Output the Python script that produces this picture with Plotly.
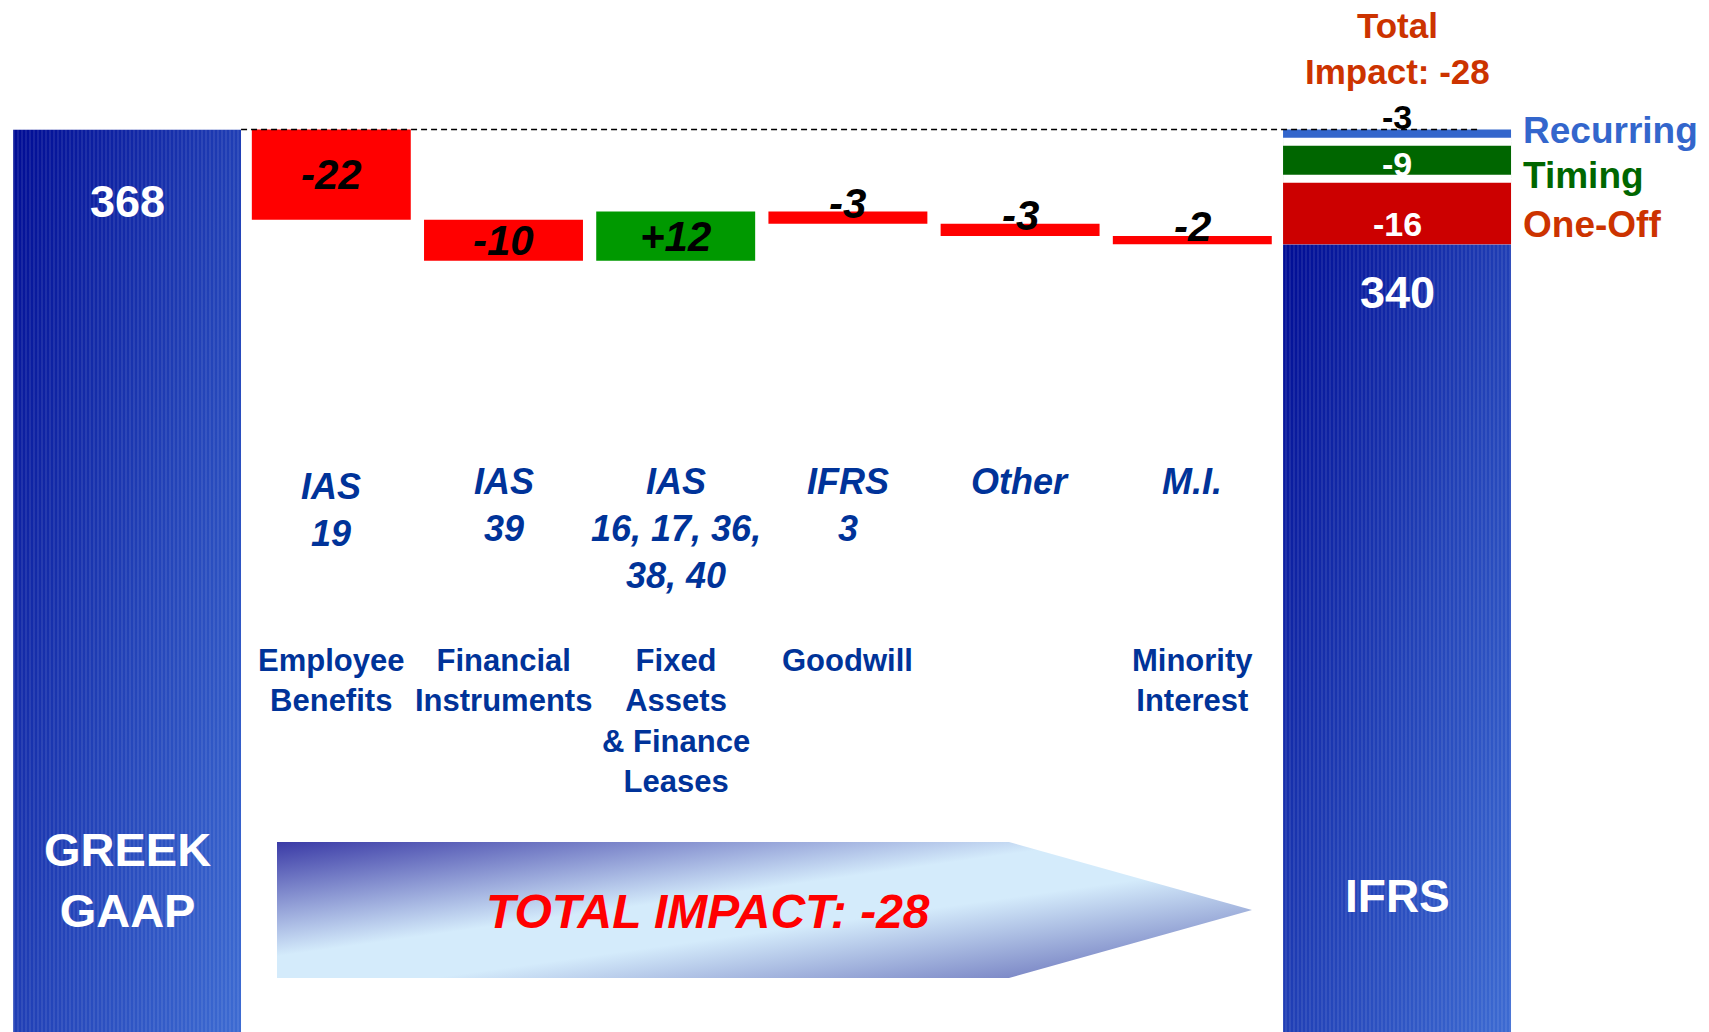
import base64
import numpy as np
import plotly.graph_objects as go

# Equity bridge: Greek GAAP -> IFRS
start_label = "GREEK GAAP"
end_label = "IFRS"
start_value = 368
steps = ["IAS 19", "IAS 39", "IAS 16-40", "IFRS 3", "Other", "M.I."]
step_values = [-22, -10, 12, -3, -3, -2]
step_codes = ["IAS<br>19", "IAS<br>39", "IAS<br>16, 17, 36,<br>38, 40", "IFRS<br>3", "Other", "M.I."]
step_names = ["Employee<br>Benefits", "Financial<br>Instruments", "Fixed<br>Assets<br>& Finance<br>Leases",
              "Goodwill", "", "Minority<br>Interest"]

# split of the total impact, stacked up from the IFRS figure
split_names = ["One-Off", "Timing", "Recurring"]
split_values = [-16, -9, -3]

total_impact = sum(step_values)
end_value = start_value + total_impact

after = start_value + np.cumsum(step_values)
before = np.concatenate([[start_value], after[:-1]])
step_base = np.minimum(before, after)
step_height = np.abs(step_values)

split_top = end_value - np.cumsum(split_values)
split_base = split_top - np.abs(split_values)

cats = [start_label] + steps + [end_label]
n = len(cats)

# geometry / styles (page body adds an 8px margin, so the figure is 8px smaller)
W, H = 1701, 1024
Y_MIN, Y_MAX = 147.88, 397.63
X_MIN, X_MAX = -0.8775, 9.0006
big_width = 1.324
big_offset = [-0.848, -0.473]
small_width = 0.923
FONT = "Liberation Sans, Arial, sans-serif"
NAVY = "#003399"
split_colors = ["#CC0000", "#006600", "#3366CC"]
split_text_colors = ["#CC3300", "#006600", "#3366CC"]
split_value_colors = ["white", "white", "black"]
split_value_shift = [-13, -4, 19]
split_name_shift = [-13, -15, 5]
code_shift = [-5, 0, 0, 0, 0, 0]


def px(x):
    return (x - 8) / W


def py(y):
    return 1 - (y - 8) / H


def svg_uri(svg):
    return "data:image/svg+xml;base64," + base64.b64encode(svg.encode()).decode()


bar_svg = svg_uri(
    "<svg xmlns='http://www.w3.org/2000/svg' width='100' height='100' viewBox='0 0 100 100' "
    "preserveAspectRatio='none'><defs><linearGradient id='g' x1='0' y1='0' x2='1' y2='1'>"
    "<stop offset='0' stop-color='#000C94'/><stop offset='0.55' stop-color='#2343B8'/>"
    "<stop offset='1' stop-color='#3D6BD2'/></linearGradient></defs>"
    "<rect width='100' height='100' fill='url(#g)'/></svg>")

arrow_svg = svg_uri(
    "<svg xmlns='http://www.w3.org/2000/svg' width='975' height='136' viewBox='0 0 975 136' "
    "preserveAspectRatio='none'><defs><linearGradient id='a' x1='0' y1='0' x2='1' y2='1'>"
    "<stop offset='0' stop-color='#3A3AA6'/><stop offset='0.42' stop-color='#D4EBFB'/>"
    "<stop offset='0.58' stop-color='#D4EBFB'/><stop offset='1' stop-color='#5A62B2'/>"
    "</linearGradient></defs><polygon points='0,0 732,0 975,68 732,136 0,136' fill='url(#a)'/></svg>")

fig = go.Figure()

# opening and closing totals
fig.add_trace(go.Bar(
    x=[start_label, end_label], y=[start_value, end_value], base=[0, 0],
    width=[big_width, big_width], offset=big_offset,
    marker=dict(color="rgba(0,0,0,0)", line_width=0,
                pattern=dict(shape="|", size=4, solidity=0.2, fgcolor="white",
                             fgopacity=0.2, fillmode="overlay")),
    hoverinfo="skip"))

# adjustments
fig.add_trace(go.Bar(
    x=steps, y=step_height, base=step_base, width=small_width,
    marker=dict(color=["#009900" if v > 0 else "#FF0000" for v in step_values], line_width=0),
    hoverinfo="skip"))

# split of total impact
for name, b, h, c in zip(split_names, split_base, np.abs(split_values), split_colors):
    fig.add_trace(go.Bar(
        x=[end_label], y=[h], base=[b], width=[big_width], offset=[big_offset[1]],
        marker=dict(color=c, line_width=0), hoverinfo="skip"))

images = []
for idx, off in zip([0, n - 1], big_offset):
    top = start_value if idx == 0 else end_value
    images.append(dict(source=bar_svg, xref="x", yref="y", x=idx + off, y=top,
                       sizex=big_width, sizey=top - Y_MIN, xanchor="left", yanchor="top",
                       sizing="stretch", layer="below"))
images.append(dict(source=arrow_svg, xref="paper", yref="paper", x=px(277), y=py(842),
                   sizex=975 / W, sizey=136 / H, xanchor="left", yanchor="top",
                   sizing="stretch", layer="below"))

ann = []
left_c = big_offset[0] + big_width / 2
right_c = n - 1 + big_offset[1] + big_width / 2
white_b = dict(family=FONT, size=45, color="white", weight="bold")

ann.append(dict(x=left_c, y=start_value, yshift=-72, text=str(start_value), font=white_b))
ann.append(dict(x=right_c, y=end_value, yshift=-48, text=str(end_value), font=white_b))
ann.append(dict(x=left_c, y=py(879.5), yref="paper", text="GREEK<br>GAAP", font=dict(white_b, size=47)))
ann.append(dict(x=right_c, y=py(896), yref="paper", text=end_label, font=dict(white_b, size=46)))

for i, (v, b, h) in enumerate(zip(step_values, step_base, step_height), start=1):
    ann.append(dict(x=i, y=b + h / 2, yshift=0 if h >= 8 else 14, text=f"{v:+d}",
                    font=dict(family=FONT, size=42, color="black", weight="bold", style="italic")))

for i, (code, name, cs) in enumerate(zip(step_codes, step_names, code_shift), start=1):
    ann.append(dict(x=i, y=py(459), yshift=cs, yref="paper", yanchor="top", text=code,
                    font=dict(family=FONT, size=36, color=NAVY, weight="bold", style="italic")))
    if name:
        ann.append(dict(x=i, y=py(641), yref="paper", yanchor="top", text=name,
                        font=dict(family=FONT, size=31, color=NAVY, weight="bold")))

for name, v, b, t, vc, vs, ns, tc in zip(split_names, split_values, split_base, split_top,
                                         split_value_colors, split_value_shift, split_name_shift,
                                         split_text_colors):
    mid = (b + t) / 2
    ann.append(dict(x=right_c, y=mid, yshift=vs, text=str(v),
                    font=dict(family=FONT, size=34, color=vc, weight="bold")))
    ann.append(dict(x=px(1521), xref="paper", xanchor="left", y=mid, yshift=ns, text=name,
                    font=dict(family=FONT, size=37, color=tc, weight="bold")))

ann.append(dict(x=right_c, y=py(48), yref="paper", text=f"Total<br>Impact: {total_impact}",
                font=dict(family=FONT, size=35, color="#CC3300", weight="bold"), borderpad=0))
ann.append(dict(x=px(708), xref="paper", y=py(911), yref="paper",
                text=f"TOTAL IMPACT: {total_impact}",
                font=dict(family=FONT, size=48, color="#FF0000", weight="bold", style="italic")))

for a in ann:
    a.setdefault("xref", "x")
    a.setdefault("yref", "y")
    a.setdefault("xanchor", "center")
    a.setdefault("yanchor", "middle")
    a.setdefault("showarrow", False)

# dashed reference at the opening value, white gaps between the split segments
shapes = [dict(type="line", xref="x", yref="y", x0=left_c + big_width / 2, x1=7.671,
               y0=start_value, y1=start_value, line=dict(color="black", width=1.5, dash="6px,4px"))]
for t in split_top[:-1]:
    shapes.append(dict(type="line", xref="x", yref="y", x0=n - 1 + big_offset[1],
                       x1=n - 1 + big_offset[1] + big_width, y0=t, y1=t,
                       line=dict(color="white", width=8)))

fig.update_layout(
    width=W, height=H, margin=dict(l=0, r=0, t=0, b=0),
    paper_bgcolor="white", plot_bgcolor="white", showlegend=False, barmode="overlay",
    xaxis=dict(visible=False, range=[X_MIN, X_MAX], type="category",
               categoryorder="array", categoryarray=cats),
    yaxis=dict(visible=False, range=[Y_MIN, Y_MAX]),
    shapes=shapes, images=images, annotations=ann)

fig.write_html("out.html")
